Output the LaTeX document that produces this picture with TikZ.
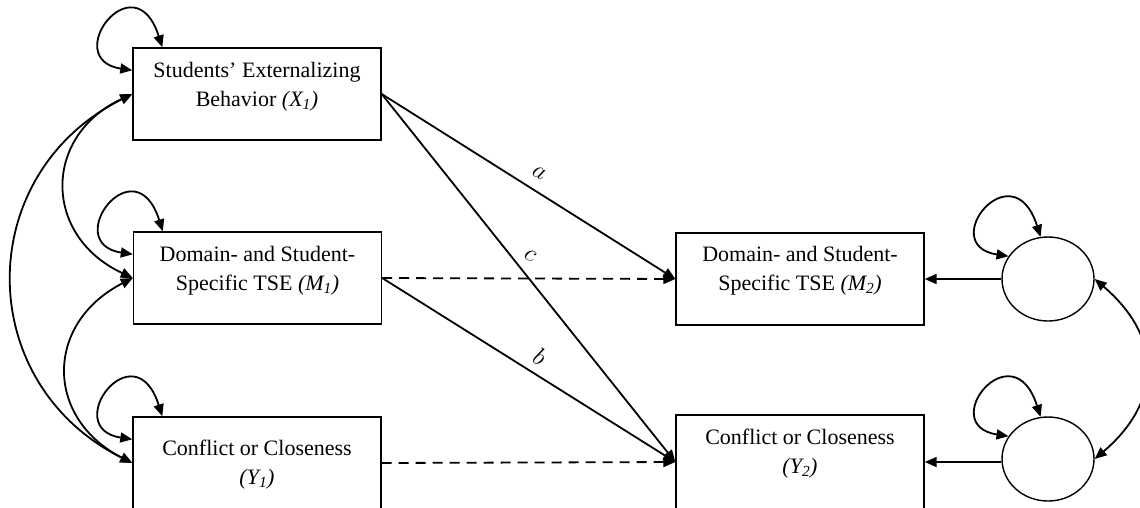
\documentclass[tikz,border=0pt]{standalone}
\usepackage{fontspec}
\setmainfont{Liberation Serif}
\usetikzlibrary{arrows.meta,calc,shapes.geometric}
\begin{document}
\begin{tikzpicture}[x=1pt,y=-1pt,
  box/.style={draw, line width=1.4pt, minimum width=248pt, minimum height=92pt, inner sep=0pt},
  lat/.style={draw, ellipse, line width=1.4pt, minimum width=92pt, minimum height=84pt, inner sep=0pt},
  txt/.style={font=\fontsize{22}{28.5}\selectfont, align=center, anchor=base, inner sep=0pt},
  arr/.style={line width=1.8pt, -{Triangle[length=12pt,width=10pt]}},
  dbl/.style={line width=1.8pt, {Triangle[length=12pt,width=10pt]}-{Triangle[length=12pt,width=10pt]}},
  dsh/.style={arr, dash pattern=on 10pt off 7pt},
  coef/.style={font=\fontsize{24}{28}\selectfont, rotate=-30, inner sep=0pt}
]
\useasboundingbox (0,0) rectangle (1140,507);
\clip (0,0) rectangle (1140,507);

% boxes
\node[box] (X1) at (257,94) {};
\node[box] (M1) at (257.5,278) {};
\node[box] (Y1) at (257,463) {};
\node[box] (M2) at (800,279) {};
\node[box, minimum height=94pt] (Y2) at (800,462) {};
\node[lat] (E1) at (1048,279) {};
\node[lat] (E2) at (1048,459) {};

% texts (base = last line)
\node[txt] (tX1) at (257,106) {Students’ Externalizing\\Behavior \textit{(X\textsubscript{1})}};
\node[txt] (tM1) at (257.5,290) {Domain- and Student-\\Specific TSE \textit{(M\textsubscript{1})}};
\node[txt] (tY1) at (257,484) {Conflict or Closeness\\\textit{(Y\textsubscript{1})}};
\node[txt] (tM2) at (800,290) {Domain- and Student-\\Specific TSE \textit{(M\textsubscript{2})}};
\node[txt] (tY2) at (800,473) {Conflict or Closeness\\\textit{(Y\textsubscript{2})}};

% paths
\draw[arr] (X1.east) -- (M2.west);
\draw[arr] (X1.east) -- (Y2.west);
\draw[arr] (M1.east) -- (Y2.west);
\draw[dsh] (M1.east) -- (M2.west);
\draw[dsh] (Y1.east) -- (Y2.west);
\draw[arr] (E1.west) -- (M2.east);
\draw[arr] (E2.west |- Y2.east) -- (Y2.east);

\node[coef] (la) at (539,173) {$a$};
\node[coef] (lc) at (530,255) {$c$};
\node[coef] (lb) at (540,357) {$b$};

% covariances left
\draw[dbl] (X1.west) .. controls ($(X1.west)+(-90,42)$) and ($(M1.west)+(-90,-42)$) .. (M1.west);
\draw[dbl] (M1.west) .. controls ($(M1.west)+(-88,45)$) and ($(Y1.west)+(-88,-45)$) .. (Y1.west);
\draw[dbl] (X1.west) .. controls ($(X1.west)+(-160,80)$) and ($(Y1.west)+(-160,-80)$) .. (Y1.west);

% covariance right
\draw[dbl] (E1.east) .. controls ($(E1.east)+(68,58)$) and ($(E2.east)+(68,-58)$) .. (E2.east);

% self loops
\foreach \b in {X1,M1,Y1}{
  \draw[dbl] ($(\b.north west)+(0,23)$) .. controls ($(\b.north west)+(-73,12)$) and ($(\b.north west)+(2,-88)$) .. ($(\b.north west)+(30,0)$);
}
\foreach \e in {E1,E2}{
  \draw[dbl] (\e.150) .. controls ($(\e.150)+(-73,-11)$) and ($(\e.100)+(-28,-88)$) .. (\e.100);
}
\end{tikzpicture}
\end{document}
